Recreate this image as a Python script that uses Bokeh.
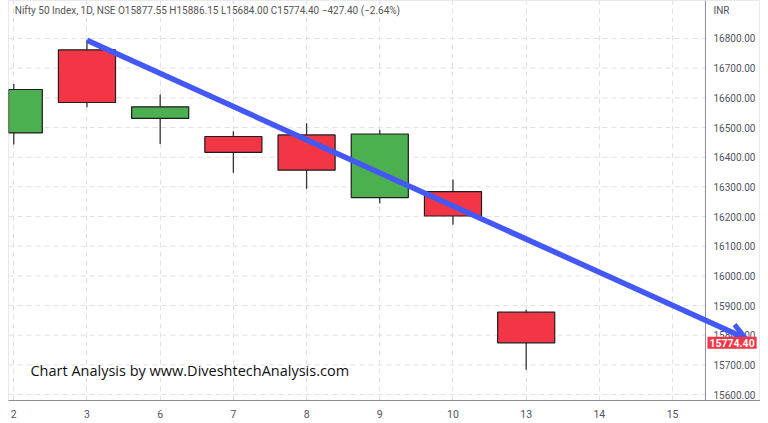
from bokeh.plotting import figure
from bokeh.models import (ColumnDataSource, FixedTicker, Label, Arrow, OpenHead,
                          Range1d, Span)
from bokeh.core.properties import value
from bokeh.embed import file_html
from bokeh.resources import INLINE

# ---- data (Nifty 50, daily) ----
day_labels = ["2", "3", "6", "7", "8", "9", "10", "13", "14", "15"]
opens  = [16481.65, 16761.65, 16530.70, 16469.60, 16474.95, 16263.85, 16283.95, 15877.55]
highs  = [16646.40, 16793.85, 16610.95, 16487.25, 16514.30, 16492.80, 16324.70, 15886.15]
lows   = [16443.05, 16567.90, 16444.55, 16347.10, 16293.35, 16243.85, 16172.60, 15684.00]
closes = [16628.00, 16584.30, 16569.55, 16416.35, 16356.25, 16478.10, 16201.80, 15774.40]
price_ticks = [15600, 15700, 15800, 15900, 16000, 16100, 16200, 16300, 16400,
               16500, 16600, 16700, 16800]
trend_start = (1, 16793.85)
trend_end = (10, 15789.0)
last_close = 15774.40
header = "Nifty 50 Index, 1D, NSE  O15877.55  H15886.15  L15684.00  C15774.40  \u2212427.40 (\u22122.64%)"
watermark = "Chart Analysis by www.DiveshtechAnalysis.com"

GREEN = "#4caf50"
RED = "#f23645"
BLUE = "#4458f6"
GRID = "#dfe1e6"
TXT = "#50535e"
AXIS = "#8a8d96"

X0, XSCALE_END, PRICE_EDGE = -0.072, 10.201, 9.449
Y0, Y1 = 15580, 16928

xs = list(range(len(opens)))
src = ColumnDataSource(dict(
    x=xs,
    top=[max(o, c) for o, c in zip(opens, closes)],
    bottom=[min(o, c) for o, c in zip(opens, closes)],
    high=highs, low=lows,
    color=[GREEN if c >= o else RED for o, c in zip(opens, closes)],
))
tick_src = ColumnDataSource(dict(
    y=price_ticks,
    x0=[X0] * len(price_ticks),
    x1=[PRICE_EDGE] * len(price_ticks),
    label=[f"{v:.2f}" for v in price_ticks],
))

p = figure(frame_width=752, frame_height=400,
           x_range=Range1d(X0, XSCALE_END), y_range=Range1d(Y0, Y1),
           y_axis_location=None, output_backend="svg", toolbar_location=None,
           min_border_left=8, min_border_top=0, min_border_right=0, min_border_bottom=15)
p.outline_line_color = "#e8e9ee"
p.background_fill_color = "white"
p.border_fill_color = "white"

# vertical grid
p.xgrid.ticker = FixedTicker(ticks=list(range(len(day_labels))))
p.xgrid.grid_line_color = GRID
p.xgrid.grid_line_dash = "5 4"
p.ygrid.grid_line_color = None

# horizontal grid (stops at the price scale)
p.segment(x0="x0", x1="x1", y0="y", y1="y", source=tick_src,
          line_color=GRID, line_dash="5 4", line_width=1)

# x axis
xa = p.xaxis[0]
xa.ticker = FixedTicker(ticks=list(range(len(day_labels))))
xa.major_label_overrides = {i: l for i, l in enumerate(day_labels)}
xa.axis_line_color = AXIS
xa.major_tick_line_color = None
xa.minor_tick_line_color = None
xa.major_label_text_color = TXT
xa.major_label_text_font = "Roboto"
xa.major_label_text_font_size = "10.5px"
xa.major_label_standoff = 3

# price scale
p.add_layout(Span(location=PRICE_EDGE, dimension="height", line_color=AXIS, line_width=1))
p.text(x="x1", y="y", text="label", source=tick_src, x_offset=8,
       text_align="left", text_baseline="middle", text_font=value("Roboto"),
       text_font_size="10px", text_color=TXT)

# candles
p.segment(x0="x", y0="high", x1="x", y1="low", source=src, line_color="#333333", line_width=1.3)
p.vbar(x="x", width=0.78, top="top", bottom="bottom", source=src,
       fill_color="color", line_color="#1e1e1e", line_width=1.2)

# trend arrow
p.add_layout(Arrow(end=OpenHead(size=16, line_width=5, line_color=BLUE),
                   x_start=trend_start[0], y_start=trend_start[1],
                   x_end=trend_end[0], y_end=trend_end[1],
                   line_color=BLUE, line_width=5.5))

# header
p.add_layout(Label(x=0, y=Y1, x_offset=1, y_offset=-4, text=header,
                   text_baseline="top", text_align="left", text_font="Roboto",
                   text_font_size="10px", text_color="#555555"))
# INR
p.add_layout(Label(x=PRICE_EDGE, y=Y1, x_offset=8, y_offset=-4, text="INR",
                   text_baseline="top", text_align="left", text_font="Roboto",
                   text_font_size="10px", text_color=TXT))
# watermark
p.add_layout(Label(x=0.228, y=15681, text=watermark, text_baseline="middle",
                   text_align="left", text_font="Open Sans", text_font_size="14.5px",
                   text_color="#111111"))
# last price tag
p.add_layout(Label(x=PRICE_EDGE, y=last_close, x_offset=2, text=f"{last_close:.2f}",
                   text_baseline="middle", text_align="left", text_font="Roboto",
                   text_font_size="10.5px", text_font_style="bold", text_color="white",
                   background_fill_color=RED, padding=2))

open("out.html", "w").write(file_html(p, INLINE))
